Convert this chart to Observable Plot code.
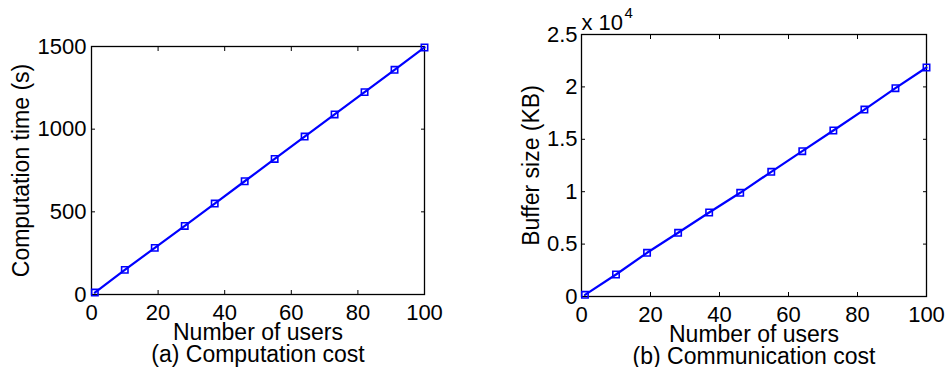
<!DOCTYPE html>
<html>
<head>
<meta charset="utf-8">
<script src="https://cdn.jsdelivr.net/npm/d3@7"></script>
<script src="https://cdn.jsdelivr.net/npm/@observablehq/plot@0.6"></script>
<style>
  body { margin: 0; background: #fff; }
  #wrap { display: flex; width: 948px; height: 367px; background: #fff; }
  #wrap svg { display: block; }
</style>
</head>
<body>
<div id="wrap"></div>
<script>
// ---- data ----
const users = [1, 10, 19, 28, 37, 46, 55, 64, 73, 82, 91, 100];
const computationTime = [12, 149, 282, 415, 550, 685, 820, 955, 1089, 1224, 1359, 1494];
const bufferSize = [160, 2100, 4170, 6080, 8015, 9895, 11900, 13870, 15840, 17840, 19880, 21850];

const xTicks = [0, 20, 40, 60, 80, 100];
const yTicksA = [0, 500, 1000, 1500];
const yTicksB = [0, 5000, 10000, 15000, 20000, 25000];

const xLabel = "Number of users";
const yLabelA = "Computation time (s)";
const yLabelB = "Buffer size (KB)";
const captionA = "(a) Computation cost";
const captionB = "(b) Communication cost";
const exponentBase = "x 10";
const exponent = "4";

const FONT = "'Liberation Sans', Arial, Helvetica, sans-serif";
const BLUE = "#0000ff";

function panel({values, yDomain, yTicks, yFormat, yLabel, caption, margins, yLabelDx, yTickPad, extra = []}) {
  const data = users.map((u, i) => ({u, v: values[i]}));
  const inward = (opts) => ({tickSize: -4, tickFormat: () => "", label: null, strokeWidth: 1, ...opts});
  return Plot.plot({
    width: 474,
    height: 367,
    ...margins,
    x: {domain: [0, 100]},
    y: {domain: yDomain},
    style: {fontFamily: FONT, fontSize: "22px", color: "black", background: "white", overflow: "visible"},
    marks: [
      // inward ticks on all four sides
      Plot.axisX(xTicks, inward({anchor: "bottom"})),
      Plot.axisX(xTicks, inward({anchor: "top"})),
      Plot.axisY(yTicks, inward({anchor: "left"})),
      Plot.axisY(yTicks, inward({anchor: "right"})),
      // tick labels
      Plot.axisX(xTicks, {anchor: "bottom", tickSize: 0, tickPadding: 10, label: null, fontSize: 22}),
      Plot.axisY(yTicks, {anchor: "left", tickSize: 0, tickPadding: yTickPad, label: null, tickFormat: yFormat, fontSize: 22}),
      Plot.frame({stroke: "black", strokeWidth: 1.3}),
      // series
      Plot.line(data, {x: "u", y: "v", stroke: BLUE, strokeWidth: 2.2}),
      Plot.dot(data, {x: "u", y: "v", symbol: "square", r: 3.6, stroke: BLUE, strokeWidth: 1.6, fill: "none"}),
      // axis titles and caption
      Plot.text([xLabel], {frameAnchor: "bottom", textAnchor: "middle", dy: 45, lineAnchor: "bottom", fontSize: 23, fill: "black"}),
      Plot.text([caption], {frameAnchor: "bottom", textAnchor: "middle", dy: 67, lineAnchor: "bottom", fontSize: 23, fill: "black"}),
      Plot.text([yLabel], {frameAnchor: "left", textAnchor: "middle", dx: yLabelDx, rotate: -90, lineAnchor: "bottom", fontSize: 23, fill: "black"}),
      ...extra
    ]
  });
}

const wrap = document.getElementById("wrap");

wrap.appendChild(panel({
  values: computationTime,
  yDomain: [0, 1500],
  yTicks: yTicksA,
  yFormat: d => String(d),
  yLabel: yLabelA,
  caption: captionA,
  margins: {marginLeft: 91, marginRight: 50, marginTop: 46, marginBottom: 73},
  yLabelDx: -63,
  yTickPad: 5
}));

wrap.appendChild(panel({
  values: bufferSize,
  yDomain: [0, 25000],
  yTicks: yTicksB,
  yFormat: d => String(d / 10000),
  yLabel: yLabelB,
  caption: captionB,
  margins: {marginLeft: 107, marginRight: 22, marginTop: 34, marginBottom: 71},
  yLabelDx: -43,
  yTickPad: 4,
  extra: [
    Plot.text([exponentBase], {frameAnchor: "top-left", textAnchor: "start", lineAnchor: "bottom", dy: -5, fontSize: 22, fill: "black"}),
    Plot.text([exponent], {frameAnchor: "top-left", textAnchor: "start", lineAnchor: "bottom", dx: 43, dy: -17, fontSize: 15, fill: "black"})
  ]
}));
</script>
</body>
</html>
